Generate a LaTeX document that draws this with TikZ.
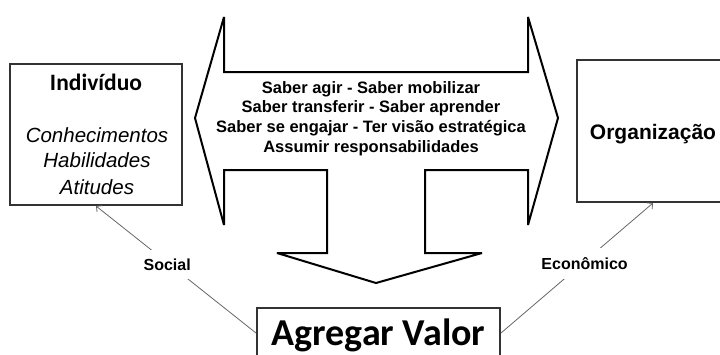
\documentclass[tikz,border=0pt]{standalone}
\usepackage{fontspec}
\setmainfont{Liberation Sans}
\newfontfamily\calibfont{Carlito}
\usetikzlibrary{arrows.meta}
\begin{document}
\begin{tikzpicture}[x=1pt,y=-1pt,
  box/.style={draw=black!80,line width=2pt,fill=white,inner sep=0pt},
  bigarrow/.style={draw=black,line width=2pt,line join=miter,miter limit=2,fill=white},
  conn/.style={draw=black!60,line width=0.8pt,-{Straight Barb[length=4pt,width=8pt]}},
  lbl/.style={fill=white,inner xsep=2pt,inner ysep=9pt,yshift=-2pt,font=\fontsize{16}{19}\selectfont\bfseries},
  arrtxt/.style={anchor=base,inner sep=0pt,font=\fontsize{16.5}{19.7}\selectfont\bfseries},
  itxt/.style={anchor=base,inner sep=0pt,font=\fontsize{20.5}{24}\selectfont\itshape},
  title/.style={anchor=base,inner sep=0pt}
]
\useasboundingbox (0,0) rectangle (720,354);
% boxes
\node[box,minimum width=172pt,minimum height=141pt] (ind) at (96,134.5) {};
\node[box,minimum width=152pt,minimum height=142pt] (org) at (653,131) {};
\node[box,minimum width=243pt,minimum height=50pt] (agr) at (378.5,333) {};
% big three-way arrow
\draw[bigarrow] (195,118) -- (224,17) -- (224,72) -- (528,72) -- (528,17) -- (558,118)
  -- (528,225) -- (528,170) -- (425,170) -- (425,253) -- (482,253) -- (376,283)
  -- (277,253) -- (327,253) -- (327,170) -- (224,170) -- (224,225) -- cycle;
% arrow texts
\node[arrtxt] (t1) at (371,93) {Saber agir - Saber mobilizar};
\node[arrtxt] (t2) at (371,112.5) {Saber transferir - Saber aprender};
\node[arrtxt] (t3) at (371,132) {Saber se engajar - Ter visão estratégica};
\node[arrtxt] (t4) at (371,152) {Assumir responsabilidades};
% box texts
\node[title,font=\calibfont\bfseries\fontsize{23.5}{26}\selectfont] (indt) at (96,90) {Indivíduo};
\node[itxt] (i1) at (97,142) {Conhecimentos};
\node[itxt] (i2) at (97,167) {Habilidades};
\node[itxt] (i3) at (97,194) {Atitudes};
\node[title,font=\fontsize{21}{24}\selectfont\bfseries] (orgt) at (653,139) {Organização};
\node[title,font=\calibfont\bfseries\fontsize{38}{40}\selectfont] (agrt) at (378.5,345) {Agregar Valor};
% connectors
\draw[conn] (agr.west) -- node[lbl,pos=0.555] (soc) {Social} (ind.south);
\draw[conn] (agr.east) -- node[lbl,pos=0.55] (eco) {Econômico} (org.south);
\end{tikzpicture}
\end{document}
